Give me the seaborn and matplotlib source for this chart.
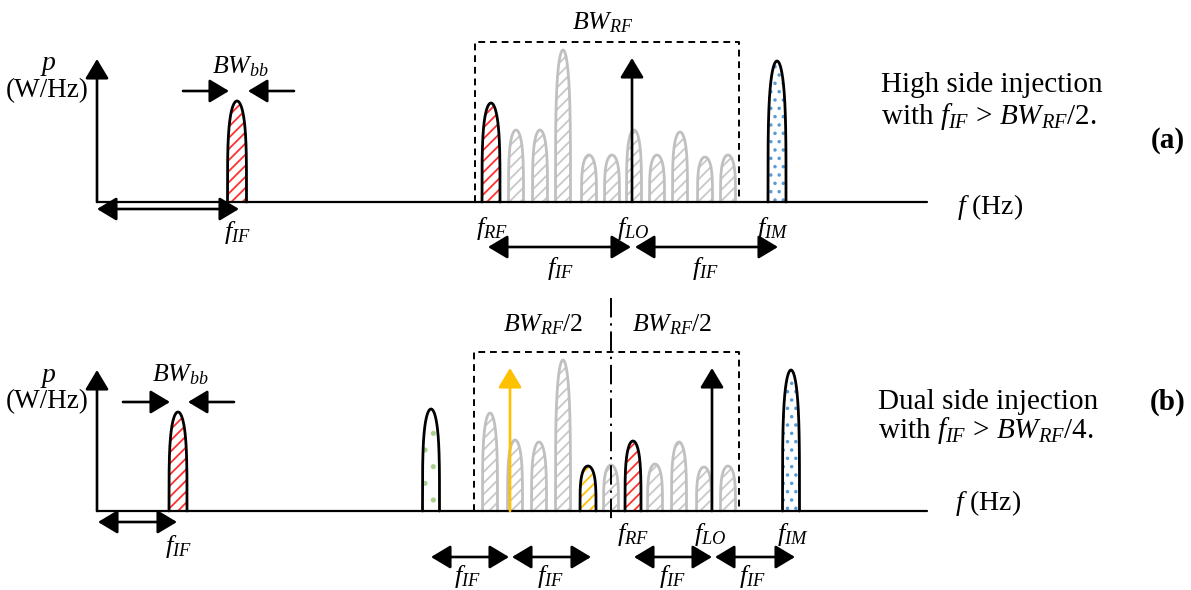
import numpy as np
import matplotlib
matplotlib.use("Agg")
import matplotlib.pyplot as plt
import seaborn as sns

sns.set_theme(style="white")
plt.rcParams.update({
    "font.family": ["Liberation Serif", "DejaVu Serif"],
    "mathtext.fontset": "custom",
    "mathtext.rm": "Liberation Serif",
    "mathtext.it": "Liberation Serif:italic",
    "mathtext.bf": "Liberation Serif:bold",
    "hatch.linewidth": 1.3,
    "text.color": "black",
})

# ---------------- data (frequency position, power level) ----------------
# panel (a): high side injection
A_IF = (237, 101)
A_RF = (491, 99)
A_LO = (632, 144)
A_IM = (777, 141)
A_GRAY_F = [516, 540, 563, 589, 612, 634, 657, 680, 705, 728]
A_GRAY_P = [72, 72, 152, 47, 47, 72, 47, 70, 45, 47]
A_BAND = (475, 739, 160)

# panel (b): dual side injection
B_IF = (178, 99)
B_MIRROR = (431, 102)
B_GRAY_F = [490, 515, 539, 563, 611, 655, 679, 704, 728]
B_GRAY_P = [98, 71, 69, 151, 46, 47, 69, 44, 45]
B_YEL = (588, 45)
B_RF = (633, 70)
B_LO_LOW = (510, 143)
B_LO = (712, 143)
B_IM = (791, 141)
B_BAND = (474, 739, 159)
B_SPLIT = 611

# ---------------- styles ----------------
RED = "#FF3030"
GRAY = "#C0C0C0"
GRAY_H = "#C8C8C8"
YEL = "#FFC000"
BLUE = "#5B9BD5"
GREEN = "#A9D18E"
W_MAIN = 18
W_GRAY = 15

fig = plt.figure(figsize=(11.91, 5.90), dpi=100)
axA = fig.add_axes([0, 0.5, 1, 0.5])
axB = fig.add_axes([0, 0.0, 1, 0.5])
axA.set_xlim(0, 1191); axA.set_ylim(-93, 202)
axB.set_xlim(0, 1191); axB.set_ylim(-79, 216)
for ax in (axA, axB):
    ax.axis("off")


def peak(ax, c, h, w, hatch, hcolor, ecolor, z=3):
    s = np.linspace(-1, 1, 401)
    y = h * (1 - s ** 2) ** (1 / 4.0)
    x = c + s * w / 2
    ax.fill(x, y, facecolor="white", edgecolor=hcolor, hatch=hatch, lw=0, zorder=z)
    sns.lineplot(x=x, y=y, ax=ax, sort=False, estimator=None, color=ecolor,
                 lw=2.0, zorder=z + 0.1)


def arrow(ax, x0, y0, x1, y1, color="black", both=False, lw=1.9, ms=30):
    style = "<|-|>" if both else "-|>"
    ax.annotate("", xy=(x1, y1), xytext=(x0, y0),
                arrowprops=dict(arrowstyle=style + ",head_length=0.4,head_width=0.24",
                                color=color, lw=lw, shrinkA=0, shrinkB=0,
                                mutation_scale=ms), zorder=6)


def axes_frame(ax, ytop):
    arrow(ax, 97, 0, 97, ytop)
    ax.plot([97, 927], [0, 0], color="black", lw=1.6, zorder=5)
    ax.text(48, ytop - 7, "$p$", fontsize=20, ha="center", va="center")
    ax.text(47, ytop - 32, "(W/Hz)", fontsize=19.5, ha="center", va="center")


LBL = 19
BWS = 18.5
BODY = 21

# ================= panel (a) =================
axes_frame(axA, 143)
axA.text(957, -5, "$f$ (Hz)", fontsize=20, ha="left", va="center")
peak(axA, A_IF[0], A_IF[1], W_MAIN + 1, "///", RED, "black")
arrow(axA, 183, 111, 229, 111)
arrow(axA, 294, 111, 248, 111)
axA.text(240, 135, "$BW_{bb}$", fontsize=BWS, ha="center", va="center")
arrow(axA, 97, -7, 239, -7, both=True)
axA.text(237, -30, "$f_{IF}$", fontsize=LBL, ha="center", va="center")

x0, x1, top = A_BAND
axA.plot([x0, x0, x1, x1], [0, top, top, 0], color="black", lw=1.4,
         ls=(0, (3.5, 2.5)), zorder=2)
axA.text((x0 + x1) / 2 - 4, 179, "$BW_{RF}$", fontsize=BWS, ha="center", va="center")
for f, p in zip(A_GRAY_F, A_GRAY_P):
    peak(axA, f, p, W_GRAY, "///", GRAY_H, GRAY)
peak(axA, A_RF[0], A_RF[1], W_MAIN, "///", RED, "black", z=4)
peak(axA, A_IM[0], A_IM[1], W_MAIN, "..", BLUE, "black", z=4)
arrow(axA, A_LO[0], 0, A_LO[0], A_LO[1])
axA.text(492, -26, "$f_{RF}$", fontsize=LBL, ha="center", va="center")
axA.text(633, -26, "$f_{LO}$", fontsize=LBL, ha="center", va="center")
axA.text(773, -26, "$f_{IM}$", fontsize=LBL, ha="center", va="center")
arrow(axA, 488, -45, 631, -45, both=True)
arrow(axA, 635, -45, 778, -45, both=True)
axA.text(560, -66, "$f_{IF}$", fontsize=LBL, ha="center", va="center")
axA.text(705, -66, "$f_{IF}$", fontsize=LBL, ha="center", va="center")
axA.text(881, 117, "High side injection", fontsize=BODY, ha="left", va="center")
axA.text(881, 85, "with $f_{IF}$ > $BW_{RF}/2$.", fontsize=BODY, ha="left", va="center")
axA.text(1168, 62, "(a)", fontsize=BODY, fontweight="bold", ha="center", va="center")

# ================= panel (b) =================
axes_frame(axB, 141)
axB.text(955, 8, "$f$ (Hz)", fontsize=20, ha="left", va="center")
peak(axB, B_IF[0], B_IF[1], W_MAIN, "///", RED, "black")
arrow(axB, 123, 109, 170, 109)
arrow(axB, 234, 109, 188, 109)
axB.text(180, 136, "$BW_{bb}$", fontsize=BWS, ha="center", va="center")
arrow(axB, 98, -11, 177, -11, both=True)
axB.text(178, -36, "$f_{IF}$", fontsize=LBL, ha="center", va="center")

x0, x1, top = B_BAND
axB.plot([x0, x0, x1, x1], [0, top, top, 0], color="black", lw=1.4,
         ls=(0, (3.5, 2.5)), zorder=2)
axB.plot([B_SPLIT, B_SPLIT], [213, -11], color="black", lw=1.4,
         ls=(0, (10, 3, 1.2, 3)), zorder=7)
axB.text(543, 186, "$BW_{RF}/2$", fontsize=BWS, ha="center", va="center")
axB.text(672, 186, "$BW_{RF}/2$", fontsize=BWS, ha="center", va="center")
peak(axB, B_MIRROR[0], B_MIRROR[1], W_MAIN - 1, ".", GREEN, "black", z=4)
for f, p in zip(B_GRAY_F, B_GRAY_P):
    peak(axB, f, p, W_GRAY, "///", GRAY_H, GRAY)
peak(axB, B_YEL[0], B_YEL[1], W_GRAY + 1, "///", YEL, "black", z=4)
peak(axB, B_RF[0], B_RF[1], W_GRAY + 1, "///", RED, "black", z=4)
peak(axB, B_IM[0], B_IM[1], W_MAIN - 1, "..", BLUE, "black", z=4)
arrow(axB, B_LO_LOW[0], 0, B_LO_LOW[0], B_LO_LOW[1], color=YEL)
arrow(axB, B_LO[0], 0, B_LO[0], B_LO[1])
axB.text(633, -24, "$f_{RF}$", fontsize=LBL, ha="center", va="center")
axB.text(710, -24, "$f_{LO}$", fontsize=LBL, ha="center", va="center")
axB.text(793, -24, "$f_{IM}$", fontsize=LBL, ha="center", va="center")
for a, b in [(431, 509), (512, 591), (634, 712), (715, 795)]:
    arrow(axB, a, -46, b, -46, both=True)
for xf in [467, 550, 672, 752]:
    axB.text(xf, -66, "$f_{IF}$", fontsize=LBL, ha="center", va="center")
axB.text(878, 109, "Dual side injection", fontsize=BODY, ha="left", va="center")
axB.text(878, 81, "with $f_{IF}$ > $BW_{RF}/4$.", fontsize=BODY, ha="left", va="center")
axB.text(1168, 109, "(b)", fontsize=BODY, fontweight="bold", ha="center", va="center")

fig.savefig("out.png", dpi=100)
